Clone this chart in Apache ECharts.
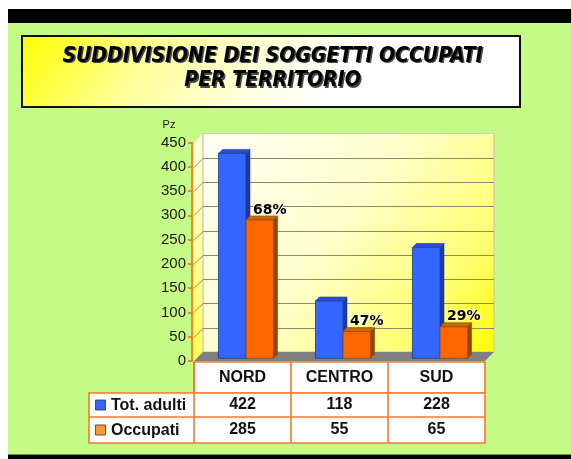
<!DOCTYPE html>
<html><head><meta charset="utf-8">
<script src="https://cdn.jsdelivr.net/npm/echarts@6/dist/echarts.min.js"></script>
<style>html,body{margin:0;padding:0;background:#fff}#c{width:571px;height:459px}</style>
</head><body><div id="c"></div>
<script>
// ---- data ----
const categories = ['NORD', 'CENTRO', 'SUD'];
const totAdulti = [422, 118, 228];
const occupati = [285, 55, 65];
const percentLabels = ['68%', '47%', '29%'];
const seriesNames = ['Tot. adulti', 'Occupati'];
const yMin = 0, yMax = 450, yStep = 50;
const titleLines = ['SUDDIVISIONE DEI SOGGETTI OCCUPATI', 'PER TERRITORIO'];
const axisName = 'Pz';

// ---- style constants ----
const GREEN = '#C6FA86';
const ORANGE_LINE = '#F5782D';
const D = 9;            // wall depth
const BAR_OX = 3.5, BAR_OY = -2.7, BAR_D = 4, BAR_FRAC = 0.284;
const BLUE = {front: '#3366FF', side: '#1F3A99', top: '#2A50D0', edge: '#1E3A9A'};
const ORANGE = {front: '#FF6600', side: '#8B4A00', top: '#C86A00', edge: '#8B4A00'};

const chart = echarts.init(document.getElementById('c'), null, {renderer: 'canvas'});

function wallsRender(params, api) {
  const cs = params.coordSys;
  const L = cs.x, R = cs.x + cs.width;
  const y0 = api.coord([0, yMin])[1];
  const yT = api.coord([0, yMax])[1];
  const ch = [];
  ch.push({type: 'polygon', shape: {points: [[L, yT], [L + D, yT - D], [L + D, y0 - D], [L, y0]]},
    style: {fill: new echarts.graphic.LinearGradient(0, 0, 0, 1, [{offset: 0, color: '#FFFFE4'}, {offset: 1, color: '#FFFF55'}])}});
  ch.push({type: 'rect', shape: {x: L + D, y: yT - D, width: R - L, height: y0 - yT},
    style: {fill: new echarts.graphic.LinearGradient(0, 0, 1, 1, [
      {offset: 0, color: '#FFFFF6'}, {offset: 0.45, color: '#FFFFCC'}, {offset: 0.8, color: '#FFFF70'}, {offset: 1, color: '#FFFF00'}]),
      stroke: '#CFCFB0', lineWidth: 1}});
  for (let v = yMin + yStep; v < yMax; v += yStep) {
    const y = Math.round(api.coord([0, v])[1]) + 0.5;
    ch.push({type: 'line', shape: {x1: L + D, y1: y - D, x2: R + D, y2: y - D}, style: {stroke: '#8A8A6A', lineWidth: 1}});
    ch.push({type: 'line', shape: {x1: L, y1: y, x2: L + D, y2: y - D}, style: {stroke: '#8A8A6A', lineWidth: 1}});
  }
  ch.push({type: 'polygon', shape: {points: [[L, y0], [R, y0], [R + D, y0 - D], [L + D, y0 - D]]}, style: {fill: '#808080'}});
  return {type: 'group', children: ch};
}

function makeBarRender(side, col, labels) {
  return function (params, api) {
    const idx = api.value(0), val = api.value(1);
    const top = api.coord([idx, val]);
    const base = api.coord([idx, 0]);
    const bw = api.size([1, 0])[0] * BAR_FRAC;
    const cx = top[0] + BAR_OX;
    const x0 = side === 0 ? cx - bw : cx;
    const x1 = x0 + bw;
    const yt = top[1] + BAR_OY, yb = base[1] + BAR_OY;
    const d = BAR_D;
    const ch = [
      {type: 'polygon', shape: {points: [[x1, yt], [x1 + d, yt - d], [x1 + d, yb - d], [x1, yb]]}, style: {fill: col.side, stroke: col.edge, lineWidth: 0.6}},
      {type: 'polygon', shape: {points: [[x0, yt], [x1, yt], [x1 + d, yt - d], [x0 + d, yt - d]]}, style: {fill: col.top, stroke: col.edge, lineWidth: 0.6}},
      {type: 'rect', shape: {x: x0, y: yt, width: bw, height: yb - yt}, style: {fill: col.front, stroke: col.edge, lineWidth: 0.8}}
    ];
    if (labels) {
      ch.push({type: 'text', x: x0 + bw / 2 + 10, y: yt - 10,
        style: {text: labels[params.dataIndex], fill: '#000', font: 'bold 14px "DejaVu Sans"', align: 'center', verticalAlign: 'middle',
          stroke: 'rgba(255,255,255,0.6)', lineWidth: 2}});
    }
    return {type: 'group', children: ch};
  };
}

const option = {
  backgroundColor: '#fff',
  animation: false,
  grid: {left: 194, right: 86, top: 142.5, bottom: 98, containLabel: false},
  xAxis: {type: 'category', data: categories, show: false},
  yAxis: {
    type: 'value', min: yMin, max: yMax, interval: yStep, offset: 2,
    axisLine: {show: true, lineStyle: {color: '#FF6600', width: 1.5}},
    axisTick: {show: true, length: 4, lineStyle: {color: '#FF6600', width: 1.5}},
    axisLabel: {color: '#1a1a1a', fontSize: 15, fontFamily: 'Liberation Sans, Arial', margin: 6},
    splitLine: {show: false}
  },
  series: [
    {type: 'custom', name: 'walls', z: 1, data: [[0, 0]], renderItem: wallsRender, silent: true},
    {type: 'custom', name: seriesNames[0], z: 3, data: totAdulti.map((v, i) => [i, v]), encode: {x: 0, y: 1}, renderItem: makeBarRender(0, BLUE, null)},
    {type: 'custom', name: seriesNames[1], z: 3, data: occupati.map((v, i) => [i, v]), encode: {x: 0, y: 1}, renderItem: makeBarRender(1, ORANGE, percentLabels)}
  ]
};
chart.setOption(option);

// ---- decoration + data table (built from arrays) ----
function buildGraphic() {
  const g = [];
  // page background bands
  g.push({type: 'rect', z: -10, shape: {x: 8, y: 9, width: 563, height: 14}, style: {fill: '#000'}});
  g.push({type: 'rect', z: -10, shape: {x: 8, y: 23, width: 563, height: 432}, style: {fill: GREEN}});
  g.push({type: 'rect', z: -10, shape: {x: 8, y: 454, width: 563, height: 1}, style: {fill: '#6E8F4A'}});
  g.push({type: 'rect', z: -10, shape: {x: 8, y: 455, width: 563, height: 4}, style: {fill: '#000'}});
  // title box
  const tg = new echarts.graphic.LinearGradient(22, 36, 260, 200, [
    {offset: 0, color: '#FFFF00'}, {offset: 0.4, color: '#FFFF99'}, {offset: 0.8, color: '#FFFFE6'}, {offset: 1, color: '#FFFFFF'}], true);
  g.push({type: 'rect', z: -5, shape: {x: 22, y: 36, width: 498, height: 71}, style: {fill: tg, stroke: '#111', lineWidth: 2}});
  const tY = [56.5, 81];
  const tf = 'italic bold 21px "DejaVu Sans Condensed", "DejaVu Sans"';
  titleLines.forEach((t, i) => {
    g.push({type: 'text', z: -4, x: 274, y: tY[i] + 1.5, style: {text: t, fill: '#4a4a4a', font: tf, align: 'center', verticalAlign: 'middle'}});
    g.push({type: 'text', z: -3, x: 272.5, y: tY[i], style: {text: t, fill: '#000', font: tf, align: 'center', verticalAlign: 'middle'}});
  });
  // axis name
  g.push({type: 'text', x: 169, y: 125, style: {text: axisName, fill: '#222', font: '11px "Liberation Sans"', align: 'center', verticalAlign: 'middle'}});

  // table
  const gridL = chart.convertToPixel({gridIndex: 0}, [0, yMin]);
  const centers = categories.map((c, i) => chart.convertToPixel({xAxisIndex: 0}, i));
  const band = centers.length > 1 ? centers[1] - centers[0] : 97;
  const tL = centers[0] - band / 2, tR = centers[centers.length - 1] + band / 2;
  const y0 = Math.round(gridL[1]) + 1;
  const rows = [y0, y0 + 31, y0 + 55, y0 + 81];
  const legL = 89;
  const stroke = {stroke: ORANGE_LINE, lineWidth: 1.6};
  g.push({type: 'rect', shape: {x: tL, y: rows[0], width: tR - tL, height: rows[1] - rows[0]}, style: Object.assign({fill: '#fff'}, stroke)});
  g.push({type: 'rect', shape: {x: legL, y: rows[1], width: tR - legL, height: rows[3] - rows[1]}, style: Object.assign({fill: '#fff'}, stroke)});
  g.push({type: 'line', shape: {x1: legL, y1: rows[2], x2: tR, y2: rows[2]}, style: stroke});
  for (let i = 0; i < categories.length; i++) {
    const xb = centers[i] - band / 2;
    g.push({type: 'line', shape: {x1: xb, y1: rows[0], x2: xb, y2: rows[3]}, style: stroke});
  }
  const fnt = 'bold 16px "Liberation Sans"';
  categories.forEach((c, i) => {
    g.push({type: 'text', x: centers[i], y: (rows[0] + rows[1]) / 2, style: {text: c, fill: '#111', font: fnt, align: 'center', verticalAlign: 'middle'}});
    g.push({type: 'text', x: centers[i], y: (rows[1] + rows[2]) / 2, style: {text: String(totAdulti[i]), fill: '#111', font: fnt, align: 'center', verticalAlign: 'middle'}});
    g.push({type: 'text', x: centers[i], y: (rows[2] + rows[3]) / 2, style: {text: String(occupati[i]), fill: '#111', font: fnt, align: 'center', verticalAlign: 'middle'}});
  });
  const legendCols = [BLUE.front, '#FF9933'];
  seriesNames.forEach((n, i) => {
    const yc = (rows[i + 1] + rows[i + 2]) / 2;
    g.push({type: 'rect', shape: {x: 95.5, y: yc - 5, width: 10, height: 10}, style: {fill: legendCols[i], stroke: '#333', lineWidth: 0.8}});
    g.push({type: 'text', x: 111, y: yc + 0.5, style: {text: n, fill: '#111', font: fnt, align: 'left', verticalAlign: 'middle'}});
  });
  return g;
}
chart.setOption({graphic: {elements: buildGraphic()}});
</script>
</body></html>
